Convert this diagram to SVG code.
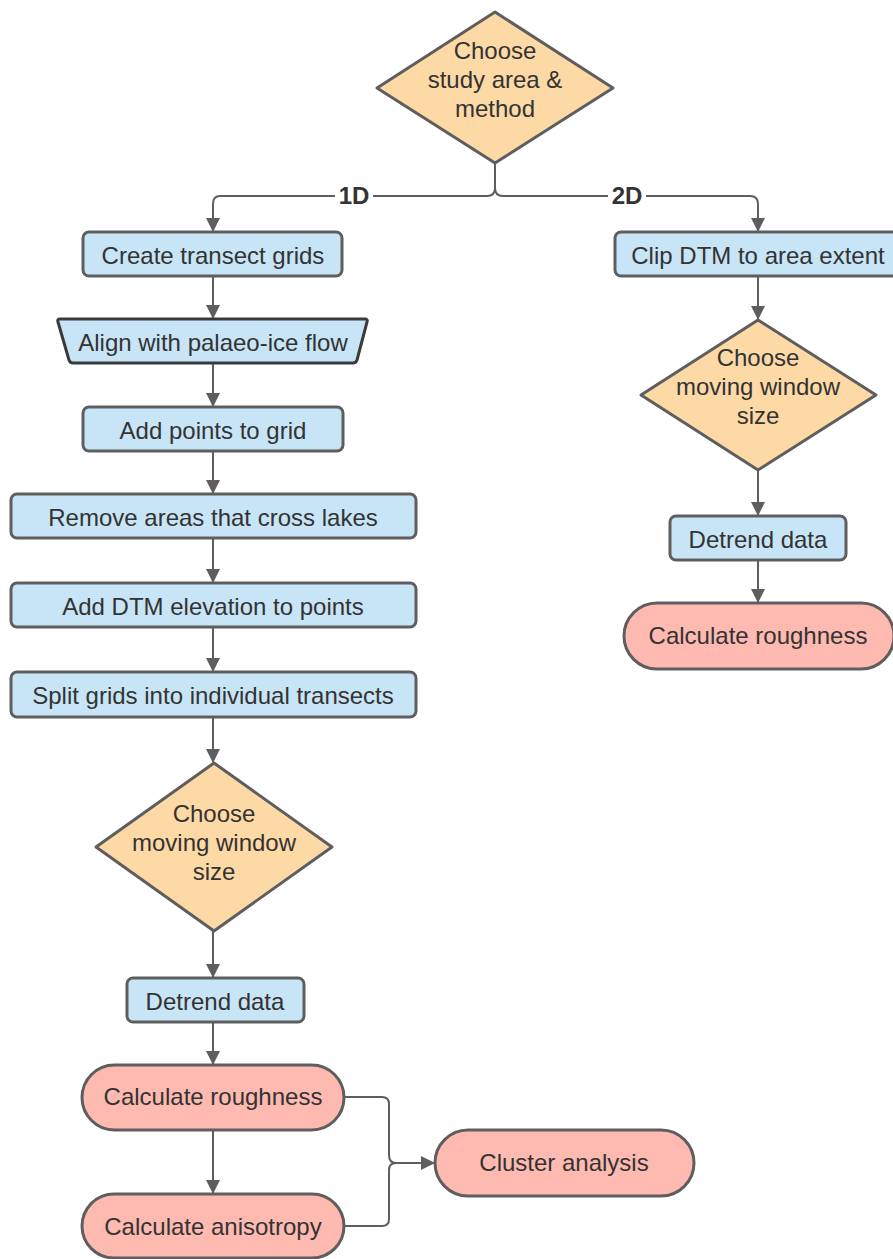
<svg xmlns="http://www.w3.org/2000/svg" width="893" height="1259" viewBox="0 0 893 1259">
<style>
.t{font-family:"Liberation Sans",Arial,sans-serif;font-size:24px;fill:#333333;text-anchor:middle;dominant-baseline:central}
.b{fill:#c7e5f6;stroke:#5e5e5e;stroke-width:3}
.d{fill:#fdd9a6;stroke:#5e5e5e;stroke-width:3;stroke-linejoin:round}
.r{fill:#feb9b0;stroke:#5e5e5e;stroke-width:3}
.c{fill:none;stroke:#5e5e5e;stroke-width:2}
.lbl{font-family:"Liberation Sans",Arial,sans-serif;font-size:24px;font-weight:bold;fill:#333333;text-anchor:middle;dominant-baseline:central}
</style>
<defs>
<marker id="ah" viewBox="0 0 14 14" refX="13" refY="7" markerWidth="14" markerHeight="14" markerUnits="userSpaceOnUse" orient="auto">
<path d="M0,0 L14,7 L0,14 Z" fill="#5e5e5e"/>
</marker>
</defs>
<rect width="893" height="1259" fill="#ffffff"/>
<g id="connectors">
<path class="c" d="M495,163 V188 Q495,196 487,196 H220 Q213,196 213,204 V231" marker-end="url(#ah)"/>
<path class="c" d="M495,188 Q495,196 503,196 H750 Q758,196 758,204 V231" marker-end="url(#ah)"/>
<rect x="335" y="183" width="38" height="26" fill="#ffffff"/>
<text class="lbl" x="354" y="195">1D</text>
<rect x="608" y="183" width="38" height="26" fill="#ffffff"/>
<text class="lbl" x="627" y="195">2D</text>
<path class="c" d="M213,276 V318" marker-end="url(#ah)"/>
<path class="c" d="M213,363 V406" marker-end="url(#ah)"/>
<path class="c" d="M213,451 V493" marker-end="url(#ah)"/>
<path class="c" d="M213,538 V582" marker-end="url(#ah)"/>
<path class="c" d="M213,627 V671" marker-end="url(#ah)"/>
<path class="c" d="M213,717 V762" marker-end="url(#ah)"/>
<path class="c" d="M213,931 V977" marker-end="url(#ah)"/>
<path class="c" d="M213,1022 V1064" marker-end="url(#ah)"/>
<path class="c" d="M213,1130 V1193" marker-end="url(#ah)"/>
<path class="c" d="M758,276 V319" marker-end="url(#ah)"/>
<path class="c" d="M758,470 V515" marker-end="url(#ah)"/>
<path class="c" d="M758,560 V602" marker-end="url(#ah)"/>
<path class="c" d="M344,1097 H382 Q389,1097 389,1104 V1155 Q389,1163 396,1163 H434" marker-end="url(#ah)"/>
<path class="c" d="M344,1226 H382 Q389,1226 389,1219 V1170 Q389,1163 396,1163"/>
</g>
<g id="n-start">
<path class="d" d="M495,12 L613,88 L495,163 L377,88 Z"/>
<text class="t" x="495" y="50">Choose</text>
<text class="t" x="495" y="79">study area &amp;</text>
<text class="t" x="495" y="108">method</text>
</g>
<g id="n-create">
<rect class="b" x="83" y="232" width="259" height="44" rx="6"/>
<text class="t" x="213" y="255">Create transect grids</text>
</g>
<g id="n-align">
<path d="M60,319 H365 Q368,319 367,322 L357,360 Q356,363 353,363 H73 Q70,363 69,360 L58,322 Q57,319 60,319 Z" fill="#c7e5f6" stroke="#3a3a3a" stroke-width="3"/>
<text class="t" x="213" y="342">Align with palaeo-ice flow</text>
</g>
<g id="n-addpoints">
<rect class="b" x="83" y="407" width="260" height="44" rx="6"/>
<text class="t" x="213" y="430">Add points to grid</text>
</g>
<g id="n-remove">
<rect class="b" x="11" y="494" width="405" height="44" rx="6"/>
<text class="t" x="213" y="517">Remove areas that cross lakes</text>
</g>
<g id="n-adddtm">
<rect class="b" x="11" y="583" width="405" height="44" rx="6"/>
<text class="t" x="213" y="606">Add DTM elevation to points</text>
</g>
<g id="n-split">
<rect class="b" x="11" y="672" width="405" height="45" rx="6"/>
<text class="t" x="213" y="695">Split grids into individual transects</text>
</g>
<g id="n-window1">
<path class="d" d="M214,763 L332,847 L214,931 L96,847 Z"/>
<text class="t" x="214" y="813">Choose</text>
<text class="t" x="214" y="842">moving window</text>
<text class="t" x="214" y="871">size</text>
</g>
<g id="n-detrend1">
<rect class="b" x="127" y="978" width="177" height="44" rx="6"/>
<text class="t" x="215" y="1001">Detrend data</text>
</g>
<g id="n-rough1">
<rect class="r" x="82" y="1065" width="262" height="65" rx="32.5"/>
<text class="t" x="213" y="1096">Calculate roughness</text>
</g>
<g id="n-aniso">
<rect class="r" x="82" y="1194" width="262" height="64" rx="32"/>
<text class="t" x="213" y="1226">Calculate anisotropy</text>
</g>
<g id="n-cluster">
<rect class="r" x="435" y="1130" width="259" height="66" rx="33"/>
<text class="t" x="564" y="1162">Cluster analysis</text>
</g>
<g id="n-clip">
<rect class="b" x="615" y="232" width="286" height="44" rx="6"/>
<text class="t" x="758" y="255">Clip DTM to area extent</text>
</g>
<g id="n-window2">
<path class="d" d="M758,320 L876,395 L758,470 L641,395 Z"/>
<text class="t" x="758" y="357">Choose</text>
<text class="t" x="758" y="386">moving window</text>
<text class="t" x="758" y="415">size</text>
</g>
<g id="n-detrend2">
<rect class="b" x="670" y="516" width="176" height="44" rx="6"/>
<text class="t" x="758" y="539">Detrend data</text>
</g>
<g id="n-rough2">
<rect class="r" x="624" y="603" width="270" height="66" rx="33"/>
<text class="t" x="758" y="635">Calculate roughness</text>
</g>
</svg>
